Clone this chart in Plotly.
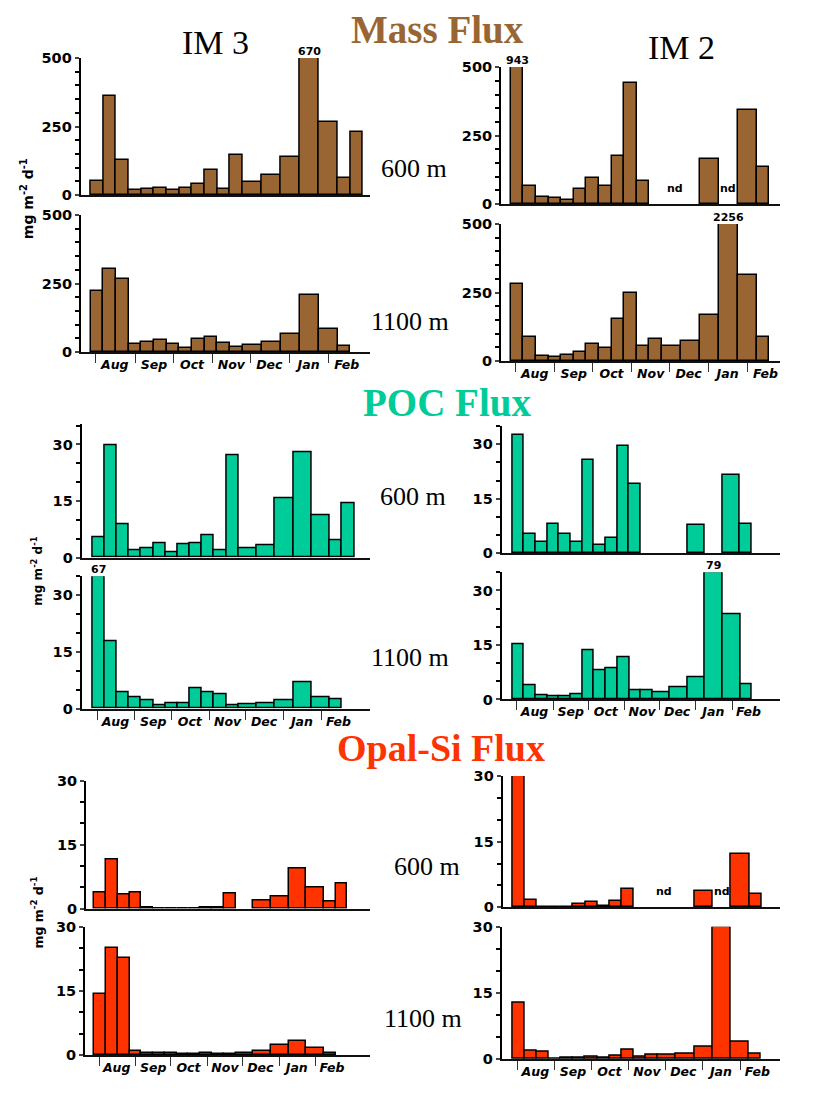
import plotly.graph_objects as go

W, H = 839, 1096

# ---------------- data ----------------
MONTHS = ["Aug", "Sep", "Oct", "Nov", "Dec", "Jan", "Feb"]
MONTH_START = [31, 62, 92, 123, 153, 184, 215]      # days since 1 Jul
MONTH_MID = [46, 77, 107, 138, 168, 199, 229]
BIN_START = 27                                       # 28 Jul
BIN_DAYS = [10, 10, 10, 10, 10, 10, 10, 10, 10, 10, 10, 10, 15, 15, 15, 15, 15, 10, 10]

mass_im3_600 = [51, 361, 130, 18, 22, 26, 18, 26, 41, 93, 22, 148, 49, 74, 139, 670, 268, 62, 231]
mass_im3_1100 = [222, 304, 266, 30, 36, 43, 31, 17, 48, 54, 32, 18, 25, 37, 65, 207, 85, 22]
mass_im2_600 = [943, 64, 25, 23, 14, 54, 94, 64, 176, 442, 85, None, None, None, 164, None, 344, 134]
mass_im2_1100 = [281, 89, 17, 16, 23, 31, 62, 49, 153, 248, 54, 79, 53, 72, 169, 2256, 315, 89]

poc_im3_600 = [5.5, 29.7, 8.9, 2.0, 2.4, 3.9, 1.4, 3.5, 3.9, 6.0, 2.1, 27.2, 2.4, 3.2, 15.7, 28.1, 11.2, 4.6, 14.4]
poc_im3_1100 = [67, 17.7, 4.4, 3.0, 2.2, 1.0, 1.3, 1.4, 5.4, 4.3, 3.7, 1.0, 1.1, 1.5, 2.2, 7.0, 3.0, 2.4]
poc_im2_600 = [32.6, 5.2, 3.0, 8.1, 5.2, 3.0, 25.6, 2.1, 4.2, 29.6, 18.9, None, None, None, 7.7, None, 21.4, 8.0]
poc_im2_1100 = [15.1, 3.8, 1.2, 0.9, 0.9, 1.4, 13.6, 8.0, 8.5, 11.5, 2.4, 2.6, 2.0, 3.3, 6.1, 79, 23.5, 4.3]

opal_im3_600 = [3.8, 11.6, 3.2, 3.8, 0.15, 0.05, 0.05, 0.05, 0.1, 0.2, 0.15, 3.5, None, 1.8, 2.8, 9.5, 4.9, 1.6, 5.9]
opal_im3_1100 = [14.3, 25.2, 22.8, 0.9, 0.5, 0.5, 0.4, 0.15, 0.3, 0.45, 0.3, 0.25, 0.55, 0.9, 2.4, 3.4, 1.7, 0.6]
opal_im2_600 = [30, 1.8, 0.1, 0.1, 0.05, 0.9, 1.2, 0.3, 1.5, 4.3, None, None, None, None, 3.7, None, 12.3, 3.1]
opal_im2_1100 = [12.7, 1.9, 1.6, 0.05, 0.35, 0.3, 0.6, 0.3, 0.7, 2.1, 0.5, 1.1, 1.0, 1.3, 2.9, 30, 4.0, 1.3]

# ---------------- styles / layout ----------------
COL_MASS = "#996633"
COL_POC = "#00CC99"
COL_OPAL = "#FF3300"

SANS = "DejaVu Sans"
SERIF = "Liberation Serif"

# geometry in px: (y-axis x, first bin x, px per day, x-axis right end, zero y, top y)
panels = [
    dict(vals=mass_im3_600, color=COL_MASS, top=500, major=[0, 250, 500], minor=50, months=False, nd=False,
         geo=(80.7, 90.7, 1.267, 370, 190, 50.7)),
    dict(vals=mass_im3_1100, color=COL_MASS, top=500, major=[0, 250, 500], minor=50, months=True, nd=False,
         geo=(81, 90.7, 1.267, 370, 349.3, 210)),
    dict(vals=mass_im2_600, color=COL_MASS, top=500, major=[0, 250, 500], minor=50, months=False, nd=True,
         geo=(501, 510.7, 1.261, 780, 199, 60)),
    dict(vals=mass_im2_1100, color=COL_MASS, top=500, major=[0, 250, 500], minor=50, months=True, nd=False,
         geo=(501, 510.7, 1.261, 780, 358.3, 219.3)),
    dict(vals=poc_im3_600, color=COL_POC, top=35.4, major=[0, 15, 30], minor=5, months=False, nd=False,
         geo=(81.7, 92.3, 1.2186, 370, 557.7, 422.3)),
    dict(vals=poc_im3_1100, color=COL_POC, top=35, major=[0, 15, 30], minor=5, months=True, nd=False,
         geo=(81.7, 92.3, 1.2186, 370, 711, 576.7)),
    dict(vals=poc_im2_600, color=COL_POC, top=35, major=[0, 15, 30], minor=5, months=False, nd=False,
         geo=(501.7, 512.3, 1.168, 780, 553.3, 424.3)),
    dict(vals=poc_im2_1100, color=COL_POC, top=35, major=[0, 15, 30], minor=5, months=True, nd=False,
         geo=(501.7, 512.3, 1.169, 780, 701.7, 572.7)),
    dict(vals=opal_im3_600, color=COL_OPAL, top=30, major=[0, 15, 30], minor=5, months=False, nd=False,
         geo=(86, 94.3, 1.177, 370, 914, 784)),
    dict(vals=opal_im3_1100, color=COL_OPAL, top=30, major=[0, 15, 30], minor=5, months=True, nd=False,
         geo=(85, 94.3, 1.177, 370, 1062.7, 932.7)),
    dict(vals=opal_im2_600, color=COL_OPAL, top=30, major=[0, 15, 30], minor=5, months=False, nd=True,
         geo=(502.7, 512.3, 1.215, 780, 912.7, 779.3)),
    dict(vals=opal_im2_1100, color=COL_OPAL, top=30, major=[0, 15, 30], minor=5, months=True, nd=False,
         geo=(501.7, 512.3, 1.213, 780, 1066.7, 932.3)),
]

fig = go.Figure()
layout = dict(
    width=W, height=H, margin=dict(l=0, r=0, t=0, b=0),
    paper_bgcolor="white", plot_bgcolor="rgba(0,0,0,0)",
    showlegend=False, bargap=0,
)
annotations = []

for i, p in enumerate(panels, start=1):
    xl, fb, s, xr, y0, yt = p["geo"]
    vals = p["vals"]
    n = len(vals)
    edges = [BIN_START]
    for d in BIN_DAYS[:n]:
        edges.append(edges[-1] + d)
    centers = [(edges[k] + edges[k + 1]) / 2 for k in range(n)]
    widths = [edges[k + 1] - edges[k] for k in range(n)]
    yplot = [None if v is None else min(v, p["top"]) for v in vals]
    xa = "x" if i == 1 else f"x{i}"
    ya = "y" if i == 1 else f"y{i}"
    fig.add_trace(go.Bar(
        x=centers, y=yplot, width=widths, xaxis=xa, yaxis=ya,
        marker=dict(color=p["color"], line=dict(color="black", width=1.5)),
        hoverinfo="skip",
    ))
    xr0 = BIN_START - (fb - xl) / s
    xr1 = BIN_START + (xr - fb) / s
    xkey = "xaxis" if i == 1 else f"xaxis{i}"
    ykey = "yaxis" if i == 1 else f"yaxis{i}"
    xaxis = dict(
        domain=[xl / W, xr / W], range=[xr0, xr1], anchor=ya,
        showline=True, linecolor="#111111", linewidth=2,
        showgrid=False, zeroline=False, fixedrange=True,
    )
    if p["months"]:
        xaxis.update(
            tickmode="array", tickvals=MONTH_MID, ticktext=MONTHS, ticks="",
            tickfont=dict(family=SANS, size=12.5, color="black", weight="bold", style="italic"),
            minor=dict(tickmode="array", tickvals=MONTH_START, ticks="outside",
                       ticklen=9, tickwidth=1, tickcolor="#333333"),
        )
    else:
        xaxis.update(showticklabels=False, ticks="")
    layout[xkey] = xaxis
    layout[ykey] = dict(
        domain=[1 - y0 / H, 1 - yt / H], range=[0, p["top"]], anchor=xa,
        showline=True, linecolor="black", linewidth=2,
        showgrid=False, zeroline=False, fixedrange=True,
        tickmode="array", tickvals=p["major"], ticks="outside", ticklen=4, tickwidth=1.5,
        tickfont=dict(family=SANS, size=14.5, color="black", weight="bold"),
        minor=dict(dtick=p["minor"], tick0=0, ticks="outside", ticklen=4, tickwidth=1.5, tickcolor="black"),
    )
    # labels for bars exceeding the axis
    for c, v in zip(centers, vals):
        if v is not None and v > p["top"]:
            annotations.append(dict(
                x=c, y=p["top"], xref=xa, yref=ya, text=str(v), showarrow=False,
                yanchor="bottom", yshift=-2,
                font=dict(family=SANS, size=11, color="black", weight="bold"),
            ))
    # nd labels at runs of missing samples
    if p["nd"]:
        k = 0
        while k < n:
            if vals[k] is None:
                j = k
                while j + 1 < n and vals[j + 1] is None:
                    j += 1
                annotations.append(dict(
                    x=(edges[k] + edges[j + 1]) / 2, y=0, xref=xa, yref=ya, text="nd",
                    showarrow=False, yanchor="bottom", yshift=7,
                    font=dict(family=SANS, size=11, color="black", weight="bold"),
                ))
                k = j + 1
            else:
                k += 1


def txt(x, y, text, size, color="black", family=SERIF, weight="normal", angle=0):
    annotations.append(dict(
        x=x / W, y=1 - y / H, xref="paper", yref="paper", text=text, showarrow=False,
        xanchor="center", yanchor="middle", textangle=angle,
        font=dict(family=family, size=size, color=color, weight=weight),
    ))


txt(437, 22, "Mass Flux", 39, COL_MASS, weight="bold")
txt(447, 400, "POC Flux", 39, COL_POC, weight="bold")
txt(441, 751, "Opal-Si Flux", 38, COL_OPAL, weight="bold")
txt(215, 35, "IM 3", 34)
txt(681, 40, "IM 2", 34)

txt(414, 163, "600 m", 26)
txt(410, 318, "1100 m", 26)
txt(413, 496, "600 m", 26)
txt(410, 659, "1100 m", 26)
txt(427, 871, "600 m", 26)
txt(423, 1025, "1100 m", 26)

ylab = "mg m<sup>-2</sup> d<sup>-1</sup>"
txt(27, 194, ylab, 14, family=SANS, weight="bold", angle=-90)
txt(37, 572, ylab, 12, family=SANS, weight="bold", angle=-90)
txt(37, 918, ylab, 12.5, family=SANS, weight="bold", angle=-90)

layout["annotations"] = annotations
fig.update_layout(**layout)
fig.write_html("out.html")
